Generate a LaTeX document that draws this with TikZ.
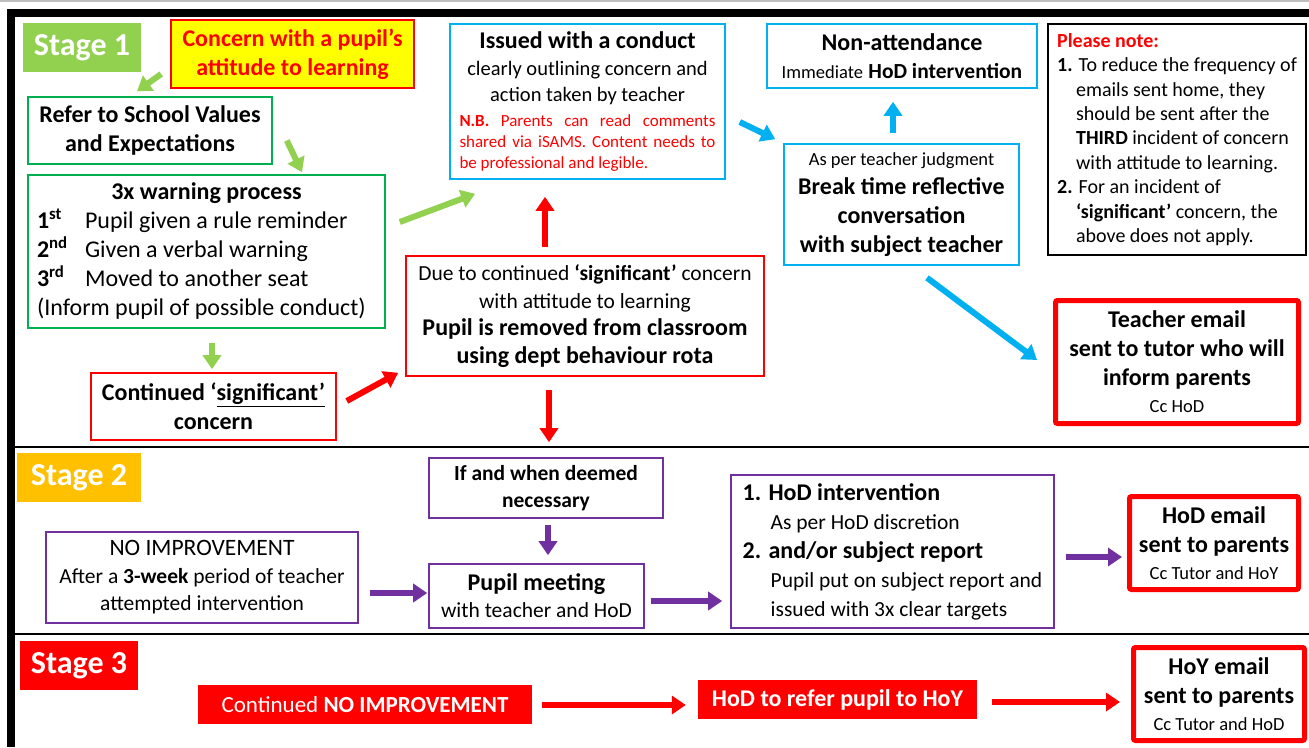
\documentclass[tikz,border=0pt]{standalone}
\usepackage{fontspec}
\setmainfont{Carlito}
\usetikzlibrary{arrows.meta}

\definecolor{sgreen}{HTML}{92D050}
\definecolor{bgreen}{HTML}{00B050}
\definecolor{sblue}{HTML}{00B0F0}
\definecolor{spurple}{HTML}{7030A0}
\definecolor{sorange}{HTML}{FFC000}
\definecolor{syellow}{HTML}{FFFF00}

\newcommand\szL{\fontsize{24}{29}\selectfont}
\newcommand\szM{\fontsize{21.5}{26}\selectfont}
\newcommand\szS{\fontsize{18.5}{22}\selectfont}
\newcommand\szN{\fontsize{17}{21}\selectfont}

\tikzset{
	box/.style={draw, line width=1.6pt, align=center, inner sep=0pt},
	mailbox/.style={box, draw=red, line width=5pt, rounded corners=2pt},
	stage/.style={inner sep=0pt, text=white, font=\fontsize{32}{36}\selectfont\bfseries},
	redfill/.style={fill=red, text=white, inner sep=0pt},
	arr/.style={line width=6pt, -{Triangle[length=14pt,width=18pt]}}
}

\begin{document}
\begin{tikzpicture}[x=1pt, y=-1pt]
	\useasboundingbox (0,0) rectangle (1309,747);
	\fill[white] (0,0) rectangle (1309,747);
	
	% frame and stage rules
	\draw[black!25, line width=1.5pt] (0,1) -- (1309,1);
	\draw[line width=8pt] (7,13) -- (1309,13);
	\draw[line width=8pt] (11,9) -- (11,747);
	\draw[line width=2pt] (15,447) -- (1309,447);
	\draw[line width=2pt] (15,634) -- (1309,634);
	
	% stage 1
	\node[stage, fill=sgreen, minimum width=118pt, minimum height=49pt] (st1) at (82,47.5) {Stage 1};
	\node[box, draw=red, fill=syellow, text=red, font=\szL\bfseries, minimum width=243pt, minimum height=68pt] (concern) at (292.5,54) {Concern with a pupil’s\\attitude to learning};
	\node[box, draw=bgreen, font=\szL\bfseries, minimum width=244pt, minimum height=67pt] (refer) at (150,130.5) {Refer to School Values\\and Expectations};
	\node[box, draw=bgreen, font=\szL, minimum width=357pt, minimum height=153pt] (warn) at (206.5,251.5) {\textbf{3x warning process}\\
		\makebox[339pt][l]{\makebox[48pt][l]{\textbf{1\textsuperscript{st}}}Pupil given a rule reminder}\\
		\makebox[339pt][l]{\makebox[48pt][l]{\textbf{2\textsuperscript{nd}}}Given a verbal warning}\\
		\makebox[339pt][l]{\makebox[48pt][l]{\textbf{3\textsuperscript{rd}}}Moved to another seat}\\
		\makebox[339pt][l]{(Inform pupil of possible conduct)}};
	\node[box, draw=red, font=\szL\bfseries, minimum width=245pt, minimum height=67pt] (cont) at (213.5,406.5) {Continued ‘\underline{significant’}\\concern};
	\node[box, draw=red, font=\fontsize{21.5}{27.5}\selectfont, minimum width=358pt, minimum height=120pt] (removed) at (585,316) {Due to continued \textbf{‘significant’} concern\\with attitude to learning\\{\szL\bfseries Pupil is removed from classroom}\\{\szL\bfseries using dept behaviour rota}};
	\node[box, draw=sblue, font=\fontsize{20.5}{26.5}\selectfont, minimum width=275pt, minimum height=155pt] (issued) at (587.5,101.5) {{\szL\bfseries Issued with a conduct}\\clearly outlining concern and\\action taken by teacher\\[-14pt]
		\parbox[t]{256pt}{\szN\color{red}\textbf{N.B.} Parents can read comments\linebreak shared via iSAMS. Content needs to\linebreak be professional and legible.}};
	\node[box, draw=sblue, font=\szL, minimum width=270pt, minimum height=64pt] (nonatt) at (902,56) {\textbf{Non-attendance}\\[-1pt]{\szS Immediate} {\szM\bfseries HoD intervention}};
	\node[box, draw=sblue, font=\szL\bfseries, minimum width=235pt, minimum height=121pt] (breakt) at (901.5,204.5) {{\szS\mdseries As per teacher judgment}\\Break time reflective\\conversation\\with subject teacher};
	\node[box, draw=black, align=left, font=\fontsize{20}{24.4}\selectfont, minimum width=258pt, minimum height=231pt] (note) at (1177,139.5) {\textcolor{red}{\textbf{Please note:}}\\
		\textbf{1.} To reduce the frequency of\\
		\hspace*{19pt}emails sent home, they\\
		\hspace*{19pt}should be sent after the\\
		\hspace*{19pt}\textbf{THIRD} incident of concern\\
		\hspace*{19pt}with attitude to learning.\\
		\textbf{2.} For an incident of\\
		\hspace*{19pt}\textbf{‘significant’} concern, the\\
		\hspace*{19pt}above does not apply.};
	\node[mailbox, font=\szL\bfseries, minimum width=243pt, minimum height=123pt] (temail) at (1177,362) {Teacher email\\sent to tutor who will\\inform parents\\[-2pt]{\szS\mdseries Cc HoD}};
	
	% stage 2
	\node[stage, fill=sorange, minimum width=124pt, minimum height=49pt] (st2) at (79,477.5) {Stage 2};
	\node[box, draw=spurple, font=\fontsize{21.5}{27}\selectfont\bfseries, minimum width=234pt, minimum height=60pt] (ifwhen) at (546,488) {If and when deemed\\necessary};
	\node[box, draw=spurple, font=\fontsize{21.5}{27.5}\selectfont, minimum width=312pt, minimum height=91pt] (noimp) at (202,577.5) {{\fontsize{23.5}{27}\selectfont NO IMPROVEMENT}\\After a \textbf{3-week} period of teacher\\attempted intervention};
	\node[box, draw=spurple, font=\fontsize{21.5}{27}\selectfont, minimum width=215pt, minimum height=64pt] (meet) at (536.5,596) {{\szL\bfseries Pupil meeting}\\with teacher and HoD};
	\node[box, draw=spurple, align=left, font=\fontsize{21.5}{29}\selectfont, minimum width=323pt, minimum height=153pt] (hodint) at (892.5,551.5) {{\szL\bfseries 1. HoD intervention}\\
		\hspace*{28pt}As per HoD discretion\\
		{\szL\bfseries 2. and/or subject report}\\
		\hspace*{28pt}Pupil put on subject report and\\
		\hspace*{28pt}issued with 3x clear targets};
	\node[mailbox, font=\szL\bfseries, minimum width=169pt, minimum height=93pt] (hodemail) at (1214,543) {HoD email\\sent to parents\\[-2pt]{\szS\mdseries Cc Tutor and HoY}};
	
	% stage 3
	\node[stage, fill=red, minimum width=118pt, minimum height=49pt] (st3) at (79,665.5) {Stage 3};
	\node[redfill, font=\fontsize{23}{27}\selectfont, minimum width=334pt, minimum height=39pt] (contno) at (365,704.5) {Continued \textbf{NO IMPROVEMENT}};
	\node[redfill, font=\szL\bfseries, minimum width=279pt, minimum height=39pt] (refhoy) at (837.5,699.5) {HoD to refer pupil to HoY};
	\node[mailbox, font=\szL\bfseries, minimum width=171pt, minimum height=93pt] (hoyemail) at (1219,694) {HoY email\\sent to parents\\[-2pt]{\szS\mdseries Cc Tutor and HoD}};
	
	% arrows
	\path[arr, sgreen]
	([shift={(-9,20)}]concern.west) edge ([shift={(-13,-5)}]refer.north)
	([shift={(14,10)}]refer.east) edge ([shift={(95.5,-2)}]warn.north)
	([shift={(14,-29.5)}]warn.east) edge ([shift={(26,14)}]issued.south west)
	([shift={(5.5,14)}]warn.south) edge ([shift={(-1.5,-3)}]cont.north);
	
	\path[arr, red]
	([shift={(10,-5.5)}]cont.east) edge ([shift={(-7,-4)}]removed.south west)
	([shift={(-40,-8)}]removed.north) edge ([shift={(-42.5,17)}]issued.south)
	([shift={(-36,13)}]removed.south) edge ([shift={(3,-15)}]ifwhen.north);
	
	\path[arr, sblue]
	([shift={(14,20.5)}]issued.east) edge ([shift={(-8,-4)}]breakt.north west)
	([shift={(-8.5,-10)}]breakt.north) edge ([shift={(-9,13)}]nonatt.south)
	([shift={(25.5,12)}]breakt.south) edge ([shift={(-16,-2)}]temail.west);
	
	\path[arr, spurple]
	([shift={(2,6)}]ifwhen.south) edge ([shift={(11.5,-8)}]meet.north)
	([shift={(11,15.5)}]noimp.east) edge ([shift={(-1,-3)}]meet.west)
	([shift={(6,5)}]meet.east) edge ([shift={(-8,49.5)}]hodint.west)
	([shift={(11,5.5)}]hodint.east) edge ([shift={(-5,14)}]hodemail.west);
	
	\path[arr, red]
	([shift={(10,0.5)}]contno.east) edge ([shift={(-12,5.5)}]refhoy.west)
	([shift={(15,2.5)}]refhoy.east) edge ([shift={(-11,8)}]hoyemail.west);
\end{tikzpicture}
\end{document}
